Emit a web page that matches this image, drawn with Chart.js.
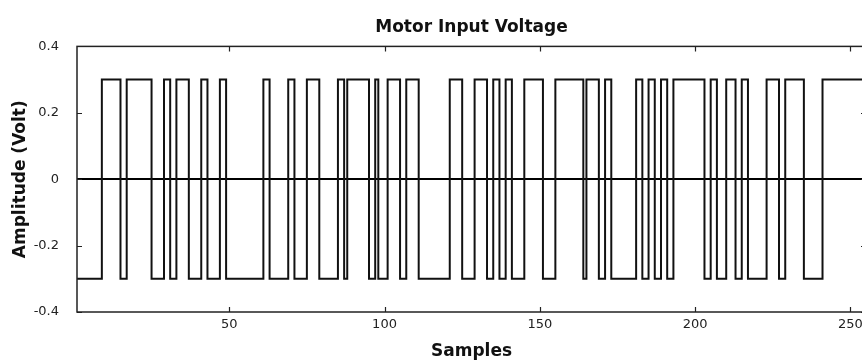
<!DOCTYPE html>
<html lang="en">

<head>
  <meta charset="UTF-8">
  <title>Motor Input Voltage</title>
  <script src="https://cdn.jsdelivr.net/npm/chart.js"></script>
  <style>
    html, body { margin: 0; padding: 0; background: #fff; overflow: hidden; }
    /* the reference is cropped on the right, so the chart is a bit wider than the window */
    .chart-box { position: absolute; left: 0; top: 0; width: 880px; height: 360px; }
  </style>
</head>

<body>
  <div class="chart-box">
    <canvas id="voltageChart"></canvas>
  </div>

  <script>
    // PRBS input: level held between switching samples
    const sampleRange = [1, 255];
    const signalLevels = [-0.3, 0.3];        // low, high (Volt)
    const startLevel = 0;                     // index into signalLevels, starts low
    const switchSamples = [
      9, 15, 17, 25, 29, 31, 33, 37, 41, 43, 47, 49,
      61, 63, 69, 71, 75, 79, 85, 87, 88, 95, 97, 98, 101, 105, 107, 111,
      121, 125, 129, 133, 135, 137, 139, 141, 145, 151, 155, 164, 165, 169, 171, 173,
      181, 183, 185, 187, 189, 191, 193, 203, 205, 207, 210, 213, 215, 217, 223, 227, 229, 235, 241
    ];
    const xTicks = [50, 100, 150, 200, 250];
    const yTicks = [-0.4, -0.2, 0, 0.2, 0.4];

    // build step points from the switching samples
    const points = [];
    let lvl = startLevel;
    points.push({ x: sampleRange[0], y: signalLevels[lvl] });
    switchSamples.forEach(s => {
      lvl = 1 - lvl;
      points.push({ x: s, y: signalLevels[lvl] });
    });
    points.push({ x: sampleRange[1], y: signalLevels[lvl] });

    const FONT = "'DejaVu Sans', 'Liberation Sans', sans-serif";

    // matlab style box with inward tick marks
    const axesBox = {
      id: 'axesBox',
      afterDatasetsDraw(chart) {
        const { ctx, chartArea: a, scales: { x, y } } = chart;
        const len = 5;
        ctx.save();
        ctx.strokeStyle = '#222';
        ctx.lineWidth = 1.2;
        ctx.beginPath();
        x.ticks.forEach(t => {
          const px = Math.round(x.getPixelForValue(t.value)) + 0.5;
          ctx.moveTo(px, a.bottom); ctx.lineTo(px, a.bottom - len);
          ctx.moveTo(px, a.top); ctx.lineTo(px, a.top + len);
        });
        y.ticks.forEach(t => {
          const py = Math.round(y.getPixelForValue(t.value)) + 0.5;
          ctx.moveTo(a.left, py); ctx.lineTo(a.left + len, py);
          ctx.moveTo(a.right, py); ctx.lineTo(a.right - len, py);
        });
        ctx.stroke();
        ctx.lineWidth = 1.5;
        ctx.strokeRect(a.left, a.top, a.right - a.left, a.bottom - a.top);
        ctx.restore();
      }
    };

    new Chart(document.getElementById('voltageChart'), {
      type: 'line',
      data: {
        datasets: [{
          label: 'Input voltage',
          data: points,
          stepped: true,
          borderColor: '#111',
          borderWidth: 2,
          pointRadius: 0,
          fill: false,
        }],
      },
      options: {
        responsive: true,
        maintainAspectRatio: false,
        animation: false,
        layout: { padding: { left: 0, right: 14, top: 0, bottom: 0 } },
        plugins: {
          legend: { display: false },
          tooltip: { enabled: false },
          title: {
            display: true,
            text: 'Motor Input Voltage',
            fullSize: false,
            color: '#111',
            font: { family: FONT, size: 17, weight: 'bold' },
            padding: { top: 17, bottom: 9 },
          },
        },
        scales: {
          x: {
            type: 'linear',
            min: sampleRange[0],
            max: sampleRange[1],
            afterBuildTicks: s => { s.ticks = xTicks.map(v => ({ value: v })); },
            afterFit: s => { s.height = 48; },
            grid: { display: false, drawTicks: false },
            border: { display: false },
            ticks: {
              color: '#222',
              padding: 5,
              maxRotation: 0,
              font: { family: FONT, size: 13 },
            },
            title: {
              display: true,
              text: 'Samples',
              color: '#111',
              padding: 0,
              font: { family: FONT, size: 17, weight: 'bold', lineHeight: 1 },
            },
          },
          y: {
            min: -0.4,
            max: 0.4,
            afterBuildTicks: s => { s.ticks = yTicks.map(v => ({ value: v })); },
            afterFit: s => { s.width = 77; },
            grid: {
              drawTicks: false,
              color: c => (c.tick && c.tick.value === 0 ? '#000' : 'rgba(0,0,0,0)'),
              lineWidth: 2,
            },
            border: { display: false },
            ticks: {
              color: '#222',
              padding: 18,
              font: { family: FONT, size: 13 },
              callback: v => String(Math.round(v * 10) / 10),
            },
            title: {
              display: true,
              text: 'Amplitude (Volt)',
              color: '#111',
              padding: 10,
              font: { family: FONT, size: 17, weight: 'bold' },
            },
          },
        },
      },
      plugins: [axesBox],
    });
  </script>
</body>

</html>
